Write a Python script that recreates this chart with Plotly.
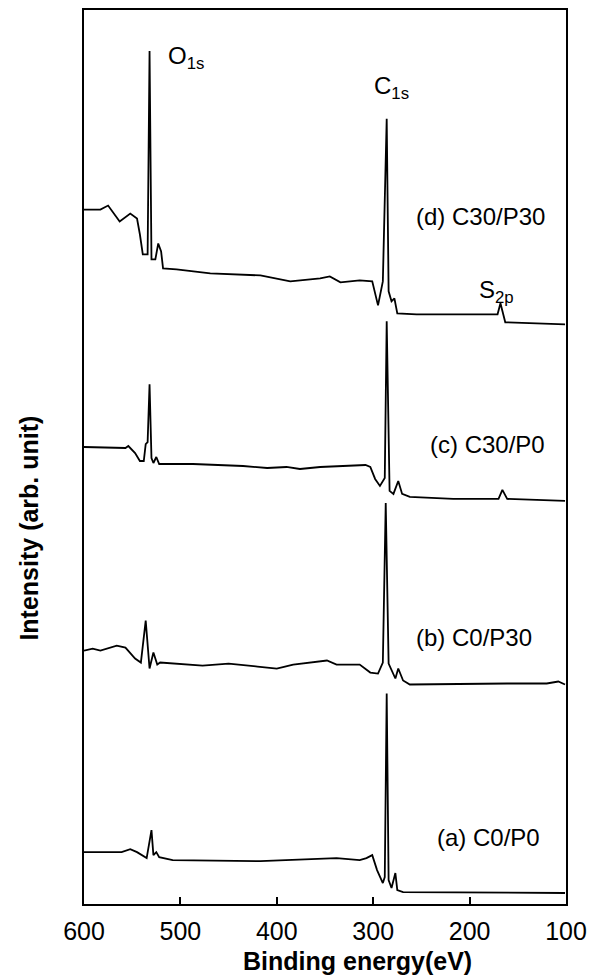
import plotly.graph_objects as go

# (a) C0/P0
energy_a = [600, 561, 552, 545, 535, 533, 530, 528, 525, 522, 508, 417, 383, 338, 314, 307, 301, 296, 290, 288, 286, 284, 281, 277, 275, 269, 101]
inten_a = [52, 52, 55, 52, 46, 58, 74, 49, 52, 47, 44, 43, 44, 46, 44, 46, 49, 34, 21, 27, 211, 24, 16, 31, 14, 12, 11]

# (b) C0/P30
energy_b = [600, 591, 583, 566, 557, 552, 547, 541, 536, 532, 528, 524, 521, 477, 450, 420, 400, 383, 348, 338, 314, 303, 295, 290, 287, 284, 277, 274, 269, 262, 203, 161, 150, 120, 108, 101]
inten_b = [254, 256, 254, 259, 257, 252, 246, 242, 284, 236, 252, 240, 242, 239, 241, 238, 236, 240, 244, 240, 240, 232, 231, 242, 402, 241, 226, 236, 224, 220, 221, 221, 221, 221, 223, 220]

# (c) C30/P0
energy_c = [600, 557, 554, 547, 542, 538, 536, 534, 532, 530, 528, 525, 522, 487, 435, 410, 390, 376, 355, 308, 303, 298, 293, 288, 286, 283, 279, 274, 270, 262, 217, 170, 166, 161, 101]
inten_c = [458, 457, 459, 452, 444, 444, 461, 463, 521, 447, 442, 448, 441, 441, 439, 437, 438, 436, 438, 440, 438, 426, 419, 427, 584, 414, 411, 424, 411, 408, 406, 406, 415, 406, 404]

# (d) C30/P30
energy_d = [600, 583, 575, 563, 552, 545, 542, 539, 534, 532, 530, 526, 523, 520, 518, 504, 469, 417, 386, 355, 345, 334, 314, 301, 295, 290, 286, 284, 281, 278, 275, 255, 171, 168, 163, 101]
inten_d = [696, 696, 700, 684, 692, 687, 671, 651, 651, 855, 646, 646, 662, 654, 637, 636, 632, 630, 624, 627, 629, 623, 625, 624, 600, 624, 787, 614, 604, 607, 592, 591, 591, 602, 583, 581]

x_ticks = [600, 500, 400, 300, 200, 100]

series = [(energy_a, inten_a), (energy_b, inten_b), (energy_c, inten_c), (energy_d, inten_d)]

FONT = "Liberation Sans, Arial, sans-serif"

fig = go.Figure()
for ex, iy in series:
    fig.add_trace(go.Scatter(x=ex, y=iy, mode="lines",
                             line=dict(color="black", width=1.8),
                             showlegend=False, hoverinfo="skip"))

labels = [
    ("O<sub>1s</sub>", 515, 848, "left"),
    ("C<sub>1s</sub>", 301, 818, "left"),
    ("(d) C30/P30", 120, 689, "right"),
    ("S<sub>2p</sub>", 192, 614, "left"),
    ("(c) C30/P0", 120, 461, "right"),
    ("(b) C0/P30", 133, 267, "right"),
    ("(a) C0/P0", 125, 67, "right"),
]
for txt, xv, yv, anc in labels:
    fig.add_annotation(x=xv, y=yv, xref="x", yref="y", text=txt, showarrow=False,
                       xanchor=anc, yanchor="middle",
                       font=dict(family=FONT, size=24, color="black"))

fig.add_annotation(x=-0.116, y=0.42, xref="paper", yref="paper",
                   text="<b>Intensity (arb. unit)</b>", textangle=-90, showarrow=False,
                   xanchor="center", yanchor="middle",
                   font=dict(family=FONT, size=25, color="black"))

fig.add_annotation(x=0.568, y=-0.064, xref="paper", yref="paper",
                   text="<b>Binding energy(eV)</b>", showarrow=False,
                   xanchor="center", yanchor="middle",
                   font=dict(family=FONT, size=25, color="black"))

fig.update_layout(
    width=600, height=977,
    margin=dict(l=84, r=34, t=8, b=73),
    paper_bgcolor="white", plot_bgcolor="white",
    font=dict(family=FONT, color="black"),
    xaxis=dict(range=[600, 100], tickvals=x_ticks, ticks="inside", ticklen=7,
               tickwidth=2, tickcolor="black", showline=True, linecolor="black",
               linewidth=2, mirror=True, showgrid=False, zeroline=False,
               ticklabelstandoff=4,
               tickfont=dict(family=FONT, size=25, color="black")),
    yaxis=dict(range=[0, 896], showticklabels=False, ticks="", showline=True,
               linecolor="black", linewidth=2, mirror=True, showgrid=False,
               zeroline=False),
)

fig.write_html("out.html")
